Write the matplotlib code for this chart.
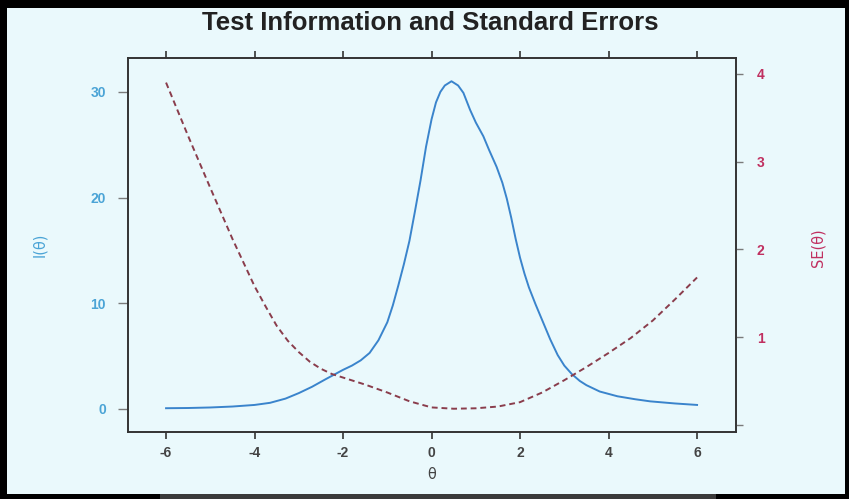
import matplotlib.pyplot as plt
from matplotlib.patches import Rectangle

plt.rcParams['font.family'] = ['Liberation Sans', 'DejaVu Sans']

# 数据：能力值 θ、测验信息量 I(θ)、标准误 SE(θ)
theta_info = [-6, -5.5, -5, -4.5, -4, -3.65, -3.3, -3, -2.7, -2.4, -2.2, -2,
              -1.8, -1.6, -1.4, -1.2, -1, -0.875, -0.75, -0.625, -0.5, -0.375,
              -0.25, -0.125, 0, 0.1, 0.2, 0.3, 0.45, 0.6, 0.72, 0.87, 1.0,
              1.17, 1.3, 1.47, 1.6, 1.7, 1.8, 1.9, 2.0, 2.1, 2.2, 2.35, 2.5,
              2.68, 2.85, 3.0, 3.17, 3.35, 3.5, 3.8, 4.2, 4.6, 4.94, 5.5, 6.0]
info = [0.07, 0.09, 0.14, 0.23, 0.38, 0.58, 0.98, 1.5, 2.1, 2.8, 3.25, 3.7,
        4.1, 4.6, 5.3, 6.5, 8.2, 9.8, 11.7, 13.7, 15.9, 18.7, 21.6, 24.8,
        27.4, 29.0, 30.0, 30.6, 31.0, 30.6, 29.9, 28.3, 27.1, 25.8, 24.5,
        22.9, 21.4, 19.9, 18.1, 16.1, 14.3, 12.8, 11.5, 9.9, 8.4, 6.6, 5.1,
        4.1, 3.3, 2.65, 2.25, 1.65, 1.2, 0.92, 0.72, 0.52, 0.38]

theta_se = [-6, -5.5, -5, -4.5, -4, -3.75, -3.5, -3.25, -3, -2.75, -2.5,
            -2.25, -2, -1.5, -1, -0.5, 0, 0.5, 1, 1.5, 2, 2.5, 3, 3.5, 4,
            4.5, 5, 5.5, 6]
se = [3.90, 3.29, 2.70, 2.12, 1.58, 1.35, 1.13, 0.96, 0.83, 0.72, 0.64,
      0.58, 0.54, 0.46, 0.37, 0.27, 0.20, 0.185, 0.19, 0.21, 0.26, 0.37,
      0.51, 0.66, 0.82, 0.99, 1.19, 1.43, 1.68]

x_ticks = [-6, -4, -2, 0, 2, 4, 6]
info_ticks = [0, 10, 20, 30]
se_ticks = [0, 1, 2, 3, 4]
se_labels = ['', '1', '2', '3', '4']

bg = '#eaf9fc'
blue_line = '#3a84cc'
blue_text = '#4ba4d6'
red_line = '#8a3d4c'
red_text = '#c03060'
axis_col = '#333333'

fig = plt.figure(figsize=(8.49, 4.99), dpi=100, facecolor=bg)
ax = fig.add_axes([128 / 849, 1 - 432 / 499, 608 / 849, 374 / 499])
ax.set_facecolor(bg)

ax.plot(theta_info, info, color=blue_line, lw=1.4, zorder=3)
ax.set_xlim(-6.86, 6.88)
ax.set_ylim(-2.18, 33.2)
ax.set_xticks(x_ticks)
ax.set_xticklabels([str(t) for t in x_ticks])
ax.set_yticks(info_ticks)
ax.tick_params(axis='x', direction='out', length=5, width=1.2, color=axis_col,
               labelsize=10, labelcolor='#444444', pad=5, top=True)
ax.tick_params(axis='y', direction='out', length=7, width=1.0, color='#7a7a7a',
               labelsize=10, labelcolor=blue_text, pad=9)
for lab in ax.get_yticklabels() + ax.get_xticklabels():
    lab.set_fontweight('bold')
for s in ax.spines.values():
    s.set_color(axis_col)
    s.set_linewidth(1.2)
ax.set_xlabel('θ', fontsize=10.5, color='#444444', labelpad=5, family=['DejaVu Sans'])

ax2 = ax.twinx()
ax2.plot(theta_se, se, color=red_line, lw=1.4, linestyle=(0, (3, 2)), zorder=2)
ax2.set_ylim(-0.08, 4.18)
ax2.set_yticks(se_ticks)
ax2.set_yticklabels(se_labels)
ax2.tick_params(axis='y', direction='out', length=5, width=1.0, color='#7a7a7a',
                labelsize=10, labelcolor=red_text, pad=10)
for lab in ax2.get_yticklabels():
    lab.set_fontweight('bold')
for s in ax2.spines.values():
    s.set_color(axis_col)
    s.set_linewidth(1.2)

fig.text(40 / 849, 1 - 245 / 499, 'I(θ)', rotation=90, color=blue_text,
         fontsize=10.5, ha='center', va='center', family=['DejaVu Sans'])
fig.text(818 / 849, 1 - 248 / 499, 'SE(θ)', rotation=90, color=red_text,
         fontsize=10.5, ha='center', va='center', family=['DejaVu Sans'])
fig.text(430 / 849, 1 - 23 / 499, 'Test Information and Standard Errors',
         fontsize=18.5, fontweight='bold', color='#222222', ha='center', va='center')

# 截图黑边框（图坐标，y 从下往上）
W, H = 849, 499
for x0, y0, w, h in [(0, 0, 7, H), (845, 0, 4, H), (0, 0, W, 5), (0, 491, W, 8)]:
    fig.patches.append(Rectangle((x0 / W, y0 / H), w / W, h / H, transform=fig.transFigure,
                                 facecolor='black', edgecolor='none', zorder=10))
fig.patches.append(Rectangle((160 / W, 0), 556 / W, 5 / H, transform=fig.transFigure,
                             facecolor='#3a3a3a', edgecolor='none', zorder=11))

fig.savefig('out.png', dpi=100, facecolor=bg)
